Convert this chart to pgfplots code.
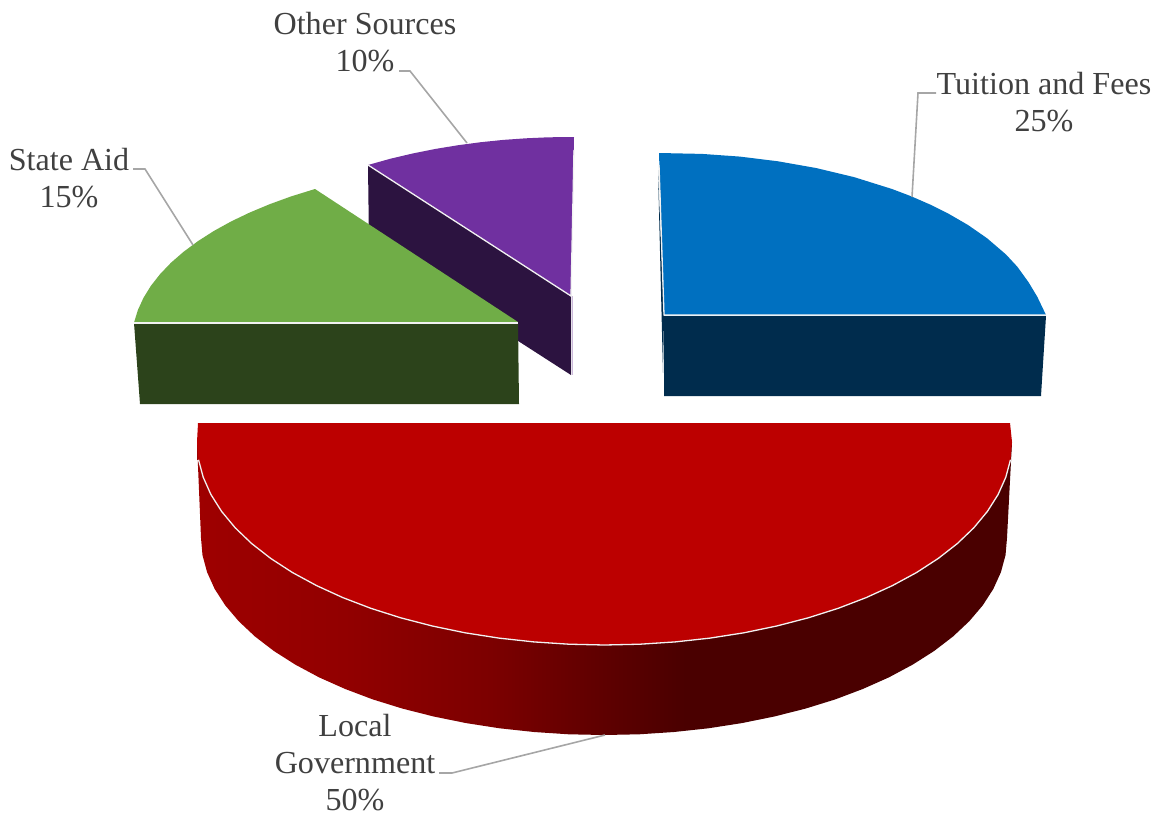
\documentclass[border=0pt]{standalone}
\usepackage{fontspec}
\setmainfont{Liberation Serif}
\usepackage{pgfplots}
\pgfplotsset{compat=1.18}

\definecolor{labelc}{HTML}{404040}
\definecolor{leader}{HTML}{A6A6A6}
\definecolor{edge}{HTML}{F2F2F2}
\definecolor{bluetop}{HTML}{0070C0}
\definecolor{blueside}{HTML}{002C4D}
\definecolor{greentop}{HTML}{70AD47}
\definecolor{greenside}{HTML}{2C431B}
\definecolor{purpletop}{HTML}{7030A0}
\definecolor{purpleside}{HTML}{2C1340}
\definecolor{redtop}{HTML}{BC0000}
\definecolor{reda}{HTML}{9E0000}
\definecolor{redb}{HTML}{920000}
\definecolor{redc}{HTML}{7C0000}
\definecolor{redd}{HTML}{600000}
\definecolor{rede}{HTML}{4A0000}

% side of the big slice, 25bp = left end, 75bp = right end of the path
\pgfdeclarehorizontalshading{redside}{100bp}{
  color(0bp)=(reda);
  color(25bp)=(reda);
  color(34bp)=(redb);
  color(43bp)=(redc);
  color(49.5bp)=(redd);
  color(55bp)=(rede);
  color(100bp)=(rede)}

\tikzset{lab/.style={font=\fontsize{32.1}{37}\selectfont, text=labelc, align=center, inner sep=0pt}}

\begin{document}
\begin{tikzpicture}
\begin{axis}[
    width=1156pt, height=814pt,
    scale only axis,
    xmin=0, xmax=1156,
    ymin=0, ymax=814,
    y dir=reverse,
    hide axis,
    clip=false,
]
% keeps the page at full size
\addplot[draw=none] coordinates {(0,0) (1156,814)};

% Other Sources
\addplot[fill=purpleside, draw=none] coordinates {(368,165) (571,296) (571,375) (369,245)} --cycle;
\addplot[edge!70!purpletop, line width=0.8pt] coordinates {(572,296) (572,375)};
\addplot[fill=purpletop, draw=none] coordinates {
  (368,165) (390.5,158.7) (413.1,153.4) (435.6,148.9) (458.2,145.2) (480.8,142.2)
  (503.3,139.9) (525.9,138.3) (548.4,137.3) (574,137) (571,296)} --cycle;
\addplot[edge, line width=1.3pt] coordinates {(368,165) (571,296) (574,150)};

% State Aid
\addplot[fill=greenside, draw=none] coordinates {(134,323) (518,323) (519,404) (140,404)} --cycle;
\addplot[fill=greentop, draw=none] coordinates {
  (134.2,322) (137.9,310) (143.5,297.8) (150.9,285.8) (160.1,274.1) (171,262.7) (183.7,251.7)
  (198,241.1) (213.8,231) (231.2,221.4) (249.8,212.5) (269.9,204.1) (291.1,196.4) (315,189) (518,322)} --cycle;
\addplot[edge, line width=1.3pt] coordinates {(134,323) (518,323)};

% Tuition and Fees
\addplot[fill=blueside, draw=none] coordinates {(658,170) (664,316) (663,373)} --cycle;
\addplot[fill=blueside, draw=none] coordinates {(664,316) (1046,316) (1041,396) (664,396)} --cycle;
\addplot[fill=bluetop, draw=none] coordinates {
  (659,153) (702,153.9) (740,156.6) (778,161.3) (816,168) (854,177.1) (892,189) (911,196.2)
  (930,204.5) (949,214) (968,225) (987,238.2) (1006,254.5) (1017.4,266.8) (1028.8,282.6)
  (1037.4,297) (1046,315) (664,315)} --cycle;
\addplot[edge, line width=1.3pt] coordinates {(659,165) (664,315) (1046,315)};

% Local Government
\addplot[shading=redside, draw=none] coordinates {
  (197,442) (201,538) (202.5,555.2) (207.1,572.2) (214.7,589) (225.3,605.4) (238.8,621.3)
  (255,636.5) (273.9,651) (295.3,664.6) (319,677.3) (345,688.9) (372.8,699.4) (402.5,708.6)
  (433.7,716.5) (466.2,723.1) (499.7,728.3) (534,732) (568.9,734.3) (604,735)
  (639.1,734.3) (674,732) (708.3,728.3) (741.8,723.1) (774.3,716.5) (805.5,708.6)
  (835.2,699.4) (863,688.9) (889,677.3) (912.7,664.6) (934.1,651) (953,636.5) (969.2,621.3)
  (982.7,605.4) (993.3,589) (1000.9,572.2) (1005.5,555.2) (1007,538) (1012,442)} --cycle;
\addplot[fill=redtop, draw=none] coordinates {
  (198,423) (197,442) (198.5,459.7) (203.2,477.2) (210.9,494.5) (221.6,511.4) (235.2,527.8)
  (251.6,543.5) (270.7,558.4) (292.4,572.5) (316.4,585.5) (342.6,597.5) (370.8,608.3)
  (400.7,617.8) (432.3,626) (465.1,632.8) (499,638.1) (533.8,641.9) (569,644.2) (604.5,645)
  (640,644.2) (675.2,641.9) (710,638.1) (743.9,632.8) (776.7,626) (808.3,617.8) (838.2,608.3)
  (866.4,597.5) (892.6,585.5) (916.6,572.5) (938.3,558.4) (957.4,543.5) (973.8,527.8)
  (987.4,511.4) (998.1,494.5) (1005.8,477.2) (1010.5,459.7) (1012,442) (1010,423)} --cycle;
\addplot[edge, line width=1.3pt] coordinates {
  (198.5,459.7) (203.2,477.2) (210.9,494.5) (221.6,511.4) (235.2,527.8)
  (251.6,543.5) (270.7,558.4) (292.4,572.5) (316.4,585.5) (342.6,597.5) (370.8,608.3)
  (400.7,617.8) (432.3,626) (465.1,632.8) (499,638.1) (533.8,641.9) (569,644.2) (604.5,645)
  (640,644.2) (675.2,641.9) (710,638.1) (743.9,632.8) (776.7,626) (808.3,617.8) (838.2,608.3)
  (866.4,597.5) (892.6,585.5) (916.6,572.5) (938.3,558.4) (957.4,543.5) (973.8,527.8)
  (987.4,511.4) (998.1,494.5) (1005.8,477.2) (1010.5,459.7)};

% leader lines
\addplot[leader, line width=1.6pt] coordinates {(399,71) (410,71) (467,143)};
\addplot[leader, line width=1.6pt] coordinates {(133,169) (145,169) (193,245)};
\addplot[leader, line width=1.6pt] coordinates {(936,93) (918,93) (912,197)};
\addplot[leader, line width=1.6pt] coordinates {(439,773) (452,773) (605,735)};

\node[lab] at (axis cs:365,42) {Other Sources\\10\%};
\node[lab] at (axis cs:69,178) {State Aid\\15\%};
\node[lab] at (axis cs:1044,102) {Tuition and Fees\\25\%};
\node[lab, anchor=base] at (axis cs:355,736) {Local};
\node[lab, anchor=base] at (axis cs:355,773) {Government};
\node[lab, anchor=base] at (axis cs:355,810) {50\%};
\end{axis}
\end{tikzpicture}
\end{document}
